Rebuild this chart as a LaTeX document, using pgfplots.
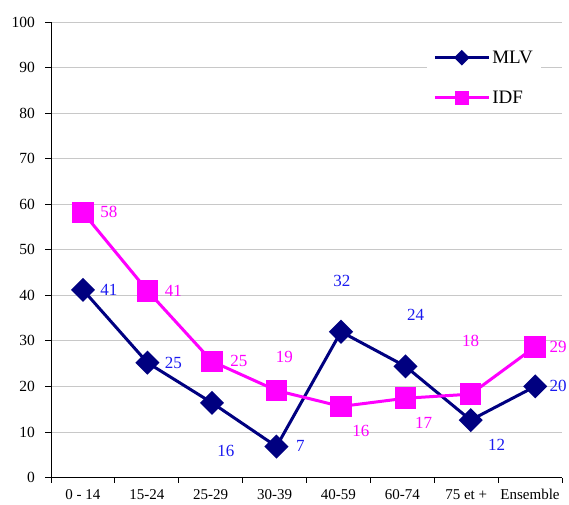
\documentclass[border=0pt]{standalone}
\usepackage{pgfplots}
\pgfplotsset{compat=1.18}
\usepackage{pgfplotstable}
\usepackage{fontspec}
\setmainfont{Liberation Serif}
\definecolor{mlvline}{RGB}{0,0,128}
\definecolor{mlvlab}{RGB}{26,26,240}
\definecolor{idfline}{RGB}{255,0,255}
\definecolor{gridc}{RGB}{200,200,200}
\pgfplotstableread{
x y lab dx dy
0.00 41.2 41 26 0
1.01 25.2 25 26 0
2.02 16.4 16 14 -48
3.03 6.8 7 24 1
4.04 32.0 32 1 51
5.05 24.4 24 10 51
6.07 12.6 12 26 -25
7.08 20.0 20 23 0
}\mlv
\pgfplotstableread{
x y lab dx dy
0.00 58.2 58 26 0
1.01 41.0 41 26 0
2.02 25.5 25 27 0
3.03 19.1 19 8 34
4.04 15.6 16 20 -25
5.05 17.4 17 18 -25
6.07 18.3 18 0 53
7.08 28.7 29 23 0
}\idf
\begin{document}
\begin{tikzpicture}[x=1pt,y=1pt]
\useasboundingbox (0,0) rectangle (569,504);
\begin{axis}[
  at={(51pt,26.5pt)}, anchor=south west,
  scale only axis, width=511pt, height=455.5pt,
  xmin=-0.5, xmax=7.5, ymin=0, ymax=100,
  axis x line*=bottom, axis y line*=left,
  axis line style={-, black, line width=0.8pt},
  xtick={0,...,7},
  xticklabels={0 - 14,15-24,25-29,30-39,40-59,60-74,75 et +,Ensemble},
  minor xtick={-0.5,0.5,...,7.5},
  ytick={0,10,...,100},
  tick align=outside,
  major tick length=6pt,
  minor tick length=5pt,
  major x tick style={draw=none},
  tick style={black, line width=0.8pt},
  ymajorgrids,
  major grid style={gridc, line width=0.8pt},
  /pgf/number format/assume math mode=true,
  yticklabel style={font=\fontsize{15.5}{15.5}\selectfont, inner sep=0pt, xshift=-10pt},
  xticklabel style={font=\fontsize{15}{15}\selectfont, inner sep=0pt, yshift=-6pt, text height=10pt, text depth=0pt},
  legend style={at={(rel axis cs:0.736,0.955)}, anchor=north west, draw=none, fill=white,
    font=\fontsize{19}{19}\selectfont, row sep=22pt, inner xsep=6pt, inner ysep=6pt},
  legend cell align=left,
  legend image code/.code={\draw[mark repeat=2,mark phase=2,#1, every mark/.append style={scale=0.58}] plot coordinates {(0pt,0pt) (27pt,0pt) (54pt,0pt)};},
  clip=false,
]
\addplot[mlvline, line width=3pt, mark=square*, mark size=7pt,
  mark options={rotate=45, fill=mlvline, draw=mlvline, solid},
  nodes near coords, point meta=explicit symbolic,
  visualization depends on={\thisrow{dx} \as \dx},
  visualization depends on={\thisrow{dy} \as \dy},
  every node near coord/.append style={anchor=center, xshift=\dx pt, yshift=\dy pt, text=mlvlab, font=\fontsize{17}{17}\selectfont, inner sep=0pt}
] table[x=x, y=y, meta=lab] {\mlv};
\addlegendentry{MLV}
\addplot[idfline, line width=3pt, mark=square*, mark size=9.3pt,
  mark options={fill=idfline, draw=idfline, solid},
  nodes near coords, point meta=explicit symbolic,
  visualization depends on={\thisrow{dx} \as \dx},
  visualization depends on={\thisrow{dy} \as \dy},
  every node near coord/.append style={anchor=center, xshift=\dx pt, yshift=\dy pt, text=idfline, font=\fontsize{17}{17}\selectfont, inner sep=0pt}
] table[x=x, y=y, meta=lab] {\idf};
\addlegendentry{IDF}
\end{axis}
\end{tikzpicture}
\end{document}
